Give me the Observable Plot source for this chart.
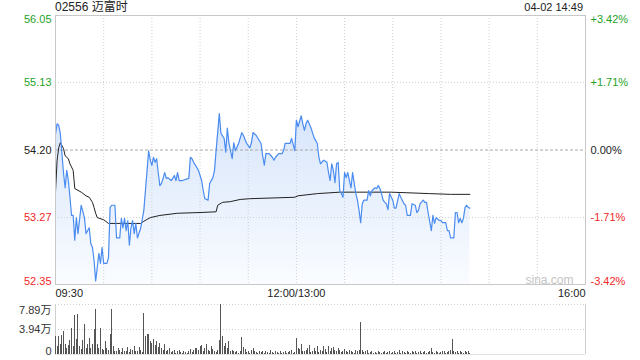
<!DOCTYPE html>
<html><head><meta charset="utf-8">
<script src="https://cdn.jsdelivr.net/npm/d3@7"></script>
<script src="https://cdn.jsdelivr.net/npm/@observablehq/plot@0.6"></script>
<style>
body{margin:0;background:#fff;}
#wrap{position:relative;width:640px;height:360px;overflow:hidden;font-family:"Liberation Sans",Arial,"Noto Sans CJK SC",sans-serif;}
#wrap svg{position:absolute;left:0;}
#title{position:absolute;left:55px;top:0px;font-size:12px;line-height:14px;color:#222;z-index:2;}
#stamp{position:absolute;right:57px;top:0px;font-size:11px;line-height:14px;color:#222;z-index:2;}
</style></head>
<body>
<div id="wrap"><div id="title">02556 迈富时</div><div id="stamp">04-02 14:49</div></div>
<script>
// ---- data ----
const prevClose = 54.20;
const priceTicks = [56.05, 55.13, 54.20, 53.27, 52.35];
const pctLabels = ["+3.42%", "+1.71%", "0.00%", "-1.71%", "-3.42%"];
const timeTicks = [0, 150, 330];
const timeLabels = ["09:30", "12:00/13:00", "16:00"];
const gridMinutes = [30, 60, 90, 120, 150, 180, 210, 240, 270, 300];
const volTicks = [7.89, 3.94, 0];
const volLabels = ["7.89万", "3.94万", "0"];

// trading minutes after 09:30 (lunch break removed) and price
const priceMinutes = [0,1,2,3,4,5,6,7,8,9,10,11,12,13,14,16,18,19,21,22,23,24,25,26,27,28,29,30,32,33,34,35,37,38,40,41,42,43,44,45,46,47,48,49,50,51,53,55,56,58,59,60,61,62,63,64,65,66,67,68,69,70,72,73,74,75,76,77,79,83,84,85,86,88,89,90,91,92,93,95,96,98,99,100,102,103,105,106,107,108,110,111,112,114,116,117,119,121,122,123,125,128,129,130,131,133,135,136,137,139,141,142,143,146,147,149,150,151,153,154,155,156,157,159,161,163,164,165,167,169,170,171,172,173,174,175,176,177,178,179,180,181,182,183,184,185,186,187,188,189,190,191,192,194,195,196,197,199,200,201,202,203,204,205,206,207,208,210,211,212,214,215,217,218,219,221,222,224,225,226,227,229,230,231,232,234,235,236,237,239,240,241,243,244,245,246,248,249,250,251,252,253,254,255,256,257,258];
const prices = [54.42,54.56,54.54,54.43,54.15,53.88,53.68,53.92,53.78,53.55,53.30,53.30,52.96,53.27,53.05,53.44,53.27,53.05,53.13,52.91,52.86,52.68,52.40,52.58,52.78,52.64,52.86,52.64,52.64,52.72,53.41,53.44,53.44,52.99,52.99,53.26,53.13,53.26,53.09,53.23,52.89,53.13,53.23,53.05,53.19,52.99,53.12,53.37,53.64,54.19,54.06,53.99,54.10,54.03,54.08,53.88,53.71,53.74,53.81,53.89,53.81,53.82,53.78,53.81,53.85,53.78,53.89,53.78,53.78,53.81,54.10,54.08,54.03,53.96,53.92,53.85,53.78,53.64,53.53,53.51,53.74,53.82,53.92,54.19,54.70,54.43,54.36,54.17,54.50,54.29,54.08,54.30,54.19,54.29,54.44,54.40,54.29,54.23,54.30,54.44,54.40,54.29,54.12,53.99,54.15,54.15,54.10,54.06,54.10,54.15,54.15,54.19,54.29,54.29,54.36,54.19,54.61,54.52,54.67,54.56,54.47,54.56,54.61,54.51,54.37,54.29,54.10,54.01,54.06,54.03,53.89,53.78,54.01,53.92,53.75,54.01,54.03,53.64,53.60,53.55,53.89,53.82,53.89,53.78,53.68,53.89,53.74,53.60,53.51,53.37,53.20,53.46,53.51,53.51,53.64,53.57,53.64,53.68,53.67,53.71,53.67,53.60,53.51,53.48,53.46,53.38,53.60,53.51,53.40,53.40,53.60,53.55,53.46,53.44,53.30,53.30,53.46,53.44,53.34,53.37,53.46,53.51,53.48,53.48,53.34,53.09,53.30,53.19,53.27,53.23,53.23,53.20,53.20,53.09,53.09,52.99,52.99,53.34,53.34,53.20,53.26,53.20,53.26,53.41,53.44,53.41,53.40];

// average price line
const avgMinutes = [0,1,2,3,5,6,8,9,11,12,16,19,21,23,24,25,26,30,33,53,55,59,65,76,90,100,101,104,109,115,121,149,151,163,177,209,233,246,258];
const avgPrices = [53.62,54.06,54.23,54.30,54.22,54.12,54.08,54.01,53.92,53.67,53.62,53.57,53.55,53.48,53.41,53.33,53.27,53.24,53.19,53.19,53.22,53.27,53.30,53.33,53.34,53.35,53.44,53.48,53.49,53.52,53.53,53.55,53.57,53.60,53.62,53.62,53.60,53.59,53.59];

// volume per minute, in 万 shares, from 09:30
const volumes = [
2.8,1.3,2.9,1.6,3.0,3.7,1.5,0.9,1.4,2.2,
4.1,1.2,6.1,2.4,6.3,1.3,0.8,2.2,4.7,1.0,
1.5,2.5,0.9,1.6,4.0,7.1,1.5,0.9,4.1,0.8,
0.6,2.1,1.0,0.7,3.2,7.1,1.2,0.5,0.4,1.0,
0.6,0.3,0.9,0.5,0.4,1.1,0.3,0.8,0.6,1.2,
0.4,0.5,1.1,0.6,0.3,6.5,2.9,3.2,3.1,2.0,
1.8,2.3,1.4,2.0,1.1,1.7,0.9,0.6,1.5,0.4,
0.6,0.9,0.3,0.5,0.7,0.2,0.4,0.6,0.3,0.2,
0.5,0.3,0.2,0.4,0.8,0.3,0.6,0.9,1.0,0.7,
1.2,1.4,0.5,1.0,1.5,0.6,0.4,1.3,0.8,0.5,
0.3,0.6,2.2,7.89,2.8,1.2,1.8,0.9,2.1,0.5,
0.6,0.4,0.3,0.5,0.2,0.4,2.7,1.1,0.8,0.3,
0.5,0.2,0.6,0.9,0.4,0.3,0.2,0.5,0.3,0.4,
0.2,0.5,0.3,0.2,0.6,0.3,0.2,0.4,0.3,0.2,
0.4,0.2,0.3,0.5,0.2,0.3,0.4,0.6,0.2,0.3,
2.6,1.0,0.8,1.6,0.5,0.4,0.7,1.0,1.4,0.3,
0.5,0.9,0.4,1.2,0.3,0.6,0.4,1.2,0.8,0.3,
1.3,0.5,0.9,1.1,0.6,0.4,1.0,0.7,0.3,0.5,
0.8,0.4,0.3,0.6,0.5,0.3,0.2,0.7,0.4,0.6,
5.0,0.6,0.3,0.5,0.7,0.2,0.3,0.4,0.2,0.3,
0.2,0.4,0.3,0.2,0.3,0.5,0.2,0.3,0.4,0.2,
0.3,0.5,0.2,0.3,0.6,0.2,0.4,0.3,0.2,0.5,
0.3,0.2,0.4,0.3,0.5,0.2,0.3,0.4,0.2,0.3,
0.5,0.2,0.3,0.4,1.0,0.3,0.2,0.4,0.3,0.2,
0.3,0.4,0.5,0.2,0.3,0.4,0.6,2.3,0.5,0.3,
0.4,0.2,0.5,0.3,0.2,0.4,0.3,0.5,0.2];

// ---- build ----
const green = "#1fa31f", red = "#f02828", black = "#222";
const colorOf = v => v > prevClose + 1e-9 ? green : (v < prevClose - 1e-9 ? red : black);
const priceData = priceMinutes.map((m, i) => ({m, p: prices[i]}));
const avgData = avgMinutes.map((m, i) => ({m, p: avgPrices[i]}));
const volData = volumes.map((v, i) => ({m: i, v}));
const tickRows = priceTicks.map((v, i) => ({v, i, label: v.toFixed(2), pct: pctLabels[i]}));
const yMin = d3.min(priceTicks), yMax = d3.max(priceTicks);
const FONT = '"Liberation Sans", Arial, "Noto Sans CJK SC", sans-serif';

function edgeLabels(rows, side, textKey, fillFn, dx, topDy = 0) {
  const last = rows.length - 1;
  const groups = [[rows.filter(r => r.i === 0), "top", topDy], [rows.filter(r => r.i > 0 && r.i < last), "middle", 0], [rows.filter(r => r.i === last), "bottom", 0]];
  return groups.map(([g, la, dy]) => Plot.text(g, {
    y: "v", text: textKey, fill: fillFn, frameAnchor: side,
    textAnchor: side === "left" ? "end" : "start", dx, dy, lineAnchor: la
  }));
}

const anchors = ["start", "middle", "end"];
const timeRows = timeTicks.map((t, i) => ({t, label: timeLabels[i], i}));

const main = Plot.plot({
  width: 640, height: 300,
  marginTop: 15, marginBottom: 16, marginLeft: 55, marginRight: 55,
  x: {domain: [timeTicks[0], timeTicks[timeTicks.length - 1]], axis: null},
  y: {domain: [yMin, yMax], axis: null},
  color: {type: "identity"},
  style: {fontFamily: FONT, fontSize: "11px", background: "transparent", overflow: "visible"},
  marks: [
    Plot.areaY(priceData, {x: "m", y1: yMin, y2: "p", fill: "url(#areaGrad)", curve: "linear"}),
    Plot.ruleX(gridMinutes, {stroke: "#cfcfcf", strokeDasharray: "1,2"}),
    Plot.ruleY(priceTicks.filter((v, i) => i > 0 && i < priceTicks.length - 1 && v !== prevClose), {stroke: "#cfcfcf", strokeDasharray: "1,2"}),
    Plot.ruleY([prevClose], {stroke: "#a8a8a8", strokeDasharray: "3,2"}),
    Plot.line(avgData, {x: "m", y: "p", stroke: "#222", strokeWidth: 1}),
    Plot.line(priceData, {x: "m", y: "p", stroke: "#4a8cf0", strokeWidth: 1.2}),
    Plot.frame({stroke: "#c8c8c8"}),
    ...edgeLabels(tickRows, "left", "label", d => colorOf(d.v), -4),
    ...edgeLabels(tickRows, "right", "pct", d => colorOf(d.v), 5),
    ...anchors.map((a, k) => Plot.text(timeRows.filter(r => r.i === k), {x: "t", text: "label", frameAnchor: "bottom", textAnchor: a, lineAnchor: "middle", dy: 9, fill: "#222"})),
    Plot.text(["sina.com"], {text: d => d, frameAnchor: "bottom-right", textAnchor: "end", lineAnchor: "bottom", dx: -12, dy: -1, fill: "#c4c4c4", fontSize: 12})
  ]
});
main.style.top = "0px";
const defs = document.createElementNS("http://www.w3.org/2000/svg", "defs");
defs.innerHTML = '<linearGradient id="areaGrad" x1="0" y1="0" x2="0" y2="1"><stop offset="0" stop-color="#d7e5fb"/><stop offset="1" stop-color="#fafcff"/></linearGradient>';
main.insertBefore(defs, main.firstChild);

const volRows = volTicks.map((v, i) => ({v, i, label: volLabels[i]}));
const vol = Plot.plot({
  width: 640, height: 60,
  marginTop: 4, marginBottom: 6, marginLeft: 55, marginRight: 55,
  x: {domain: [timeTicks[0], timeTicks[timeTicks.length - 1]], axis: null},
  y: {domain: [0, d3.max(volTicks)], axis: null},
  color: {type: "identity"},
  style: {fontFamily: FONT, fontSize: "11px", background: "transparent", overflow: "visible"},
  marks: [
    Plot.ruleY(volTicks.filter(v => v > 0), {stroke: "#cfcfcf", strokeDasharray: "1,2"}),
    Plot.ruleX([timeTicks[0], timeTicks[timeTicks.length - 1]], {stroke: "#cfcfcf"}),
    Plot.ruleY([0], {stroke: "#e2e2e2"}),
    Plot.ruleX(volData, {x: "m", y: "v", stroke: "#555", strokeWidth: 1, shapeRendering: "crispEdges"}),
    ...edgeLabels(volRows, "left", "label", () => "#333", -4, 2)
  ]
});
vol.style.top = "300px";

const wrap = document.getElementById("wrap");
wrap.insertBefore(vol, wrap.firstChild);
wrap.insertBefore(main, wrap.firstChild);
</script>
</body></html>
